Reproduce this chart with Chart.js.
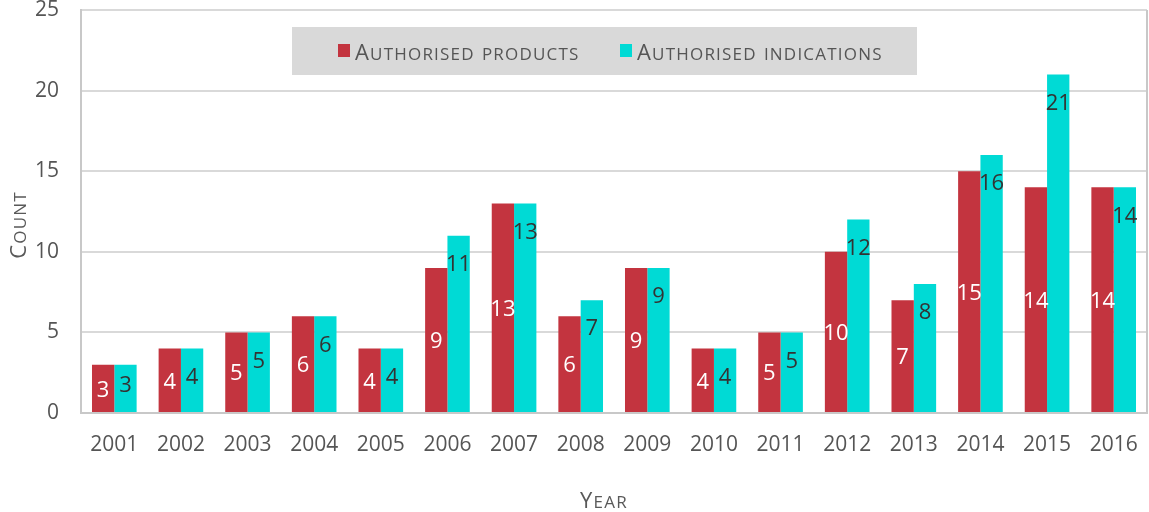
<!DOCTYPE html>
<html>
<head>
<meta charset="utf-8">
<script src="https://cdn.jsdelivr.net/npm/chart.js@4.4.0/dist/chart.umd.min.js"></script>
<style>
  html, body { margin: 0; padding: 0; background: #fff; }
  #wrap { width: 1149px; height: 512px; }
</style>
</head>
<body>
<div id="wrap"><canvas id="chart"></canvas></div>
<script>
var years = ['2001','2002','2003','2004','2005','2006','2007','2008','2009','2010','2011','2012','2013','2014','2015','2016'];
var products = [3, 4, 5, 6, 4, 9, 13, 6, 9, 4, 5, 10, 7, 15, 14, 14];
var indications = [3, 4, 5, 6, 4, 11, 13, 7, 9, 4, 5, 12, 8, 16, 21, 14];
var seriesNames = ['Authorised products', 'Authorised indications'];

var FONT = '"Open Sans", sans-serif';
var RED = '#C3343F';
var CYAN = '#00DAD5';

// draws "small caps" the old way: first letter big, rest upper case smaller
function smallCaps(ctx, text, x, y, big, small, spacing) {
    var words = text.split(' ');
    ctx.textBaseline = 'alphabetic';
    ctx.textAlign = 'left';
    var cx = x;
    words.forEach(function(w, wi) {
        for (var i = 0; i < w.length; i++) {
            var ch = w[i];
            var isBig = (ch !== ch.toLowerCase());
            ctx.font = (isBig ? big : small) + 'px ' + FONT;
            ch = ch.toUpperCase();
            ctx.fillText(ch, cx, y);
            cx += ctx.measureText(ch).width + spacing;
        }
        if (wi < words.length - 1) cx += small * 0.35 + spacing;
    });
    return cx - x;
}

function measureCaps(ctx, text, big, small, spacing) {
    ctx.save();
    ctx.globalAlpha = 0;
    var w = smallCaps(ctx, text, 0, 0, big, small, spacing);
    ctx.restore();
    return w;
}

var extras = {
    id: 'extras',
    afterDatasetsDraw: function(chart) {
        var ctx = chart.ctx;
        ctx.save();
        ctx.font = '22px ' + FONT;
        ctx.textAlign = 'center';
        ctx.textBaseline = 'middle';
        chart.getDatasetMeta(0).data.forEach(function(bar, i) {
            ctx.fillStyle = '#ffffff';
            ctx.fillText(String(products[i]), bar.x, (bar.y + bar.base) / 2 + 2);
        });
        chart.getDatasetMeta(1).data.forEach(function(bar, i) {
            var mid = (bar.y + bar.base) / 2;
            var y = Math.min(bar.y + 29, mid - 3);
            ctx.fillStyle = '#333333';
            ctx.fillText(String(indications[i]), bar.x, y);
        });
        ctx.restore();
    },
    afterDraw: function(chart) {
        var ctx = chart.ctx;
        var a = chart.chartArea;
        ctx.save();
        // right border of the plot
        ctx.strokeStyle = '#C8C8C8';
        ctx.lineWidth = 2;
        ctx.beginPath();
        ctx.moveTo(a.right, a.top);
        ctx.lineTo(a.right, a.bottom);
        ctx.stroke();

        // legend box
        ctx.fillStyle = '#D9D9D9';
        ctx.fillRect(292, 27, 625, 48);
        var colors = [RED, CYAN];
        var xs = [338, 620];
        for (var i = 0; i < 2; i++) {
            ctx.fillStyle = colors[i];
            ctx.fillRect(xs[i], 44, 12, 13);
            ctx.fillStyle = '#555555';
            smallCaps(ctx, seriesNames[i], xs[i] + 17, 60, 22, 17, 1.2);
        }

        // axis titles
        ctx.fillStyle = '#595959';
        var w = measureCaps(ctx, 'Year', 22, 17, 1.2);
        smallCaps(ctx, 'Year', 604 - w / 2, 508, 22, 17, 1.2);

        ctx.translate(26, 225);
        ctx.rotate(-Math.PI / 2);
        ctx.fillStyle = '#595959';
        w = measureCaps(ctx, 'Count', 22, 17, 1.2);
        smallCaps(ctx, 'Count', -w / 2, 0, 22, 17, 1.2);
        ctx.restore();
    }
};

var ctx = document.getElementById('chart').getContext('2d');
var myChart = new Chart(ctx, {
    type: 'bar',
    data: {
        labels: years,
        datasets: [
            { label: seriesNames[0], data: products, backgroundColor: RED },
            { label: seriesNames[1], data: indications, backgroundColor: CYAN }
        ]
    },
    options: {
        responsive: true,
        maintainAspectRatio: false,
        animation: false,
        layout: { padding: { top: 10, right: 2, left: 0, bottom: 0 } },
        datasets: {
            bar: { categoryPercentage: 0.67, barPercentage: 1.0 }
        },
        plugins: {
            legend: { display: false },
            tooltip: { enabled: false }
        },
        scales: {
            x: {
                grid: { display: false, drawTicks: false },
                border: { color: '#C8C8C8', width: 2 },
                ticks: { color: '#555555', font: { family: FONT, size: 21 }, padding: 19 },
                afterFit: function(scale) {
                    scale.height = 99;
                    scale.paddingLeft = 0;
                    scale.paddingRight = 0;
                }
            },
            y: {
                min: 0,
                max: 25,
                grid: { color: '#D9D9D9', lineWidth: 2, drawTicks: false },
                border: { color: '#C8C8C8', width: 2 },
                ticks: { stepSize: 5, color: '#555555', font: { family: FONT, size: 21 }, padding: 22 },
                afterFit: function(scale) {
                    scale.width = 81;
                    scale.paddingTop = 0;
                    scale.paddingBottom = 0;
                }
            }
        }
    },
    plugins: [extras]
});
</script>
</body>
</html>
